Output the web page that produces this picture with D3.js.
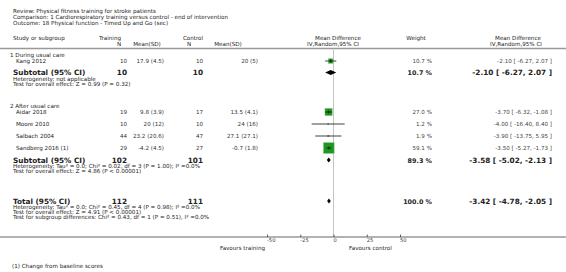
<!DOCTYPE html>
<html>
<head>
<meta charset="utf-8">
<script src="https://cdn.jsdelivr.net/npm/d3@7"></script>
<style>
  body { margin: 0; background: #fff; }
  svg text { font-family: "DejaVu Sans", Verdana, sans-serif; }
</style>
</head>
<body>
<div id="box-div"></div>
<script>
// data
const titleLines = [
    'Review:  Physical fitness training for stroke patients',
    'Comparison:  1 Cardiorespiratory training versus control - end of intervention',
    'Outcome:  18 Physical function - Timed Up and Go (sec)'
]
const groupNames = ['1 During usual care', '2 After usual care']
const studies = ['Kang 2012', 'Aidar 2018', 'Moore 2010', 'Salbach 2004', 'Sandberg 2016 (1)']
const studyGroup = [0, 1, 1, 1, 1]
const trainN = [10, 19, 10, 44, 29]
const trainMeanSD = ['17.9 (4.5)', '9.8 (3.9)', '20 (12)', '23.2 (20.6)', '-4.2 (4.5)']
const ctrlN = [10, 17, 10, 47, 27]
const ctrlMeanSD = ['20 (5)', '13.5 (4.1)', '24 (16)', '27.1 (27.1)', '-0.7 (1.8)']
const md = [-2.10, -3.70, -4.00, -3.90, -3.50]
const mdLo = [-6.27, -6.32, -16.40, -13.75, -5.27]
const mdHi = [2.07, -1.08, 8.40, 5.95, -1.73]
const weight = [10.7, 27.0, 1.2, 1.9, 59.1]

const subTrainN = [10, 102]
const subCtrlN = [10, 101]
const subMd = [-2.10, -3.58]
const subLo = [-6.27, -5.02]
const subHi = [2.07, -2.13]
const subWeight = [10.7, 89.3]
const subHet = ['Heterogeneity: not applicable',
    'Heterogeneity: Tau\u00b2 = 0.0; Chi\u00b2 = 0.02, df = 3 (P = 1.00); I\u00b2 =0.0%']
const subTest = ['Test for overall effect: Z = 0.99 (P = 0.32)',
    'Test for overall effect: Z = 4.86 (P < 0.00001)']

const total = { trainN: 112, ctrlN: 111, md: -3.42, lo: -4.78, hi: -2.05, weight: 100.0 }
const totalNotes = [
    'Heterogeneity: Tau\u00b2 = 0.0; Chi\u00b2 = 0.45, df = 4 (P = 0.98); I\u00b2 =0.0%',
    'Test for overall effect: Z = 4.91 (P < 0.00001)',
    'Test for subgroup differences: Chi\u00b2 = 0.43, df = 1 (P = 0.51), I\u00b2 =0.0%'
]
const axisTicks = [-50, -25, 0, 25, 50]
const favours = ['Favours training', 'Favours control']
const footnote = '(1) Change from baseline scores'

// layout
const dms = { width: 566, height: 272 }
const col = { left: 13, study: 16, group: 10, tN: 127, tMean: 164, cN: 203, cMean: 258, forest: 333, weight: 432, ci: 552 }
const studyY = [61, 112, 124, 136, 148]
const groupY = [55, 106]
const subY = [72.5, 160]
const totalY = 201
const axisY = 237
const fs = 5.6
const fsBold = 7.3

const svg = d3.select('#box-div').append('svg')
    .attr('width', dms.width)
    .attr('height', dms.height)

// plain hyphen for minus, like the reference
const fmt2 = v => v.toFixed(2)
const ciText = (m, l, h) => `${fmt2(m)} [ ${fmt2(l)}, ${fmt2(h)} ]`
const wText = w => `${w.toFixed(1)} %`

function txt (x, y, s, opt = {}) {
    return svg.append('text')
        .attr('x', x)
        .attr('y', y + (opt.bold ? 2.6 : 2))
        .attr('font-size', opt.size || (opt.bold ? fsBold : fs))
        .attr('font-weight', opt.bold ? 'bold' : 'normal')
        .attr('text-anchor', opt.anchor || 'start')
        .attr('fill', opt.fill || '#222')
        .text(s)
}

// titles
titleLines.forEach((t, i) => txt(col.left, 10.5 + i * 6, t))

// header
txt(col.left, 37.5, 'Study or subgroup')
txt(110, 37.5, 'Training', { anchor: 'middle' })
txt(119, 43.5, 'N', { anchor: 'middle' })
txt(147, 43.5, 'Mean(SD)', { anchor: 'middle' })
txt(193, 37.5, 'Control', { anchor: 'middle' })
txt(189, 43.5, 'N', { anchor: 'middle' })
txt(228, 43.5, 'Mean(SD)', { anchor: 'middle' })
txt(338, 37.5, 'Mean Difference', { anchor: 'middle' })
txt(333, 43.5, 'IV,Random,95% CI', { anchor: 'middle' })
txt(416, 37.5, 'Weight', { anchor: 'middle' })
txt(518, 37.5, 'Mean Difference', { anchor: 'middle' })
txt(516, 43.5, 'IV,Random,95% CI', { anchor: 'middle' })

svg.append('line')
    .attr('x1', 0).attr('x2', dms.width)
    .attr('y1', 48.5).attr('y2', 48.5)
    .attr('stroke', '#999').attr('stroke-width', 1.6)

const x = d3.scaleLinear()
    .domain([-50, 50])
    .range([267, 400])

// zero line
svg.append('line')
    .attr('x1', x(0)).attr('x2', x(0))
    .attr('y1', 50).attr('y2', axisY)
    .attr('stroke', '#c4c4c4').attr('stroke-width', 1)

// group headings
groupNames.forEach((g, i) => txt(col.group, groupY[i], g))

// study rows
const rows = studies.map((s, i) => ({
    name: s, g: studyGroup[i], tN: trainN[i], tM: trainMeanSD[i], cN: ctrlN[i], cM: ctrlMeanSD[i],
    md: md[i], lo: mdLo[i], hi: mdHi[i], w: weight[i], y: studyY[i]
}))

rows.forEach(d => {
    txt(col.study, d.y, d.name)
    txt(col.tN, d.y, d.tN, { anchor: 'end', fill: '#333' })
    txt(col.tMean, d.y, d.tM, { anchor: 'end', fill: '#333' })
    txt(col.cN, d.y, d.cN, { anchor: 'end', fill: '#333' })
    txt(col.cMean, d.y, d.cM, { anchor: 'end', fill: '#333' })
    txt(col.weight, d.y, wText(d.w), { anchor: 'end', fill: '#444' })
    txt(col.ci, d.y, ciText(d.md, d.lo, d.hi), { anchor: 'end', fill: '#444' })
})

const forest = svg.append('g').attr('id', 'forest')
const side = w => 1.37 * Math.sqrt(w)

forest.selectAll('rect.sq')
    .data(rows)
    .join('rect')
    .attr('class', 'sq')
    .attr('x', d => x(d.md) - side(d.w) / 2)
    .attr('y', d => d.y - side(d.w) / 2)
    .attr('width', d => side(d.w))
    .attr('height', d => side(d.w))
    .attr('fill', d => d.w < 3 ? '#8a8a8a' : '#1f961f')
    .attr('stroke', d => d.w < 3 ? 'none' : '#6cc46c')
    .attr('stroke-width', 0.6)

forest.selectAll('line.ci')
    .data(rows)
    .join('line')
    .attr('class', 'ci')
    .attr('x1', d => x(d.lo)).attr('x2', d => x(d.hi))
    .attr('y1', d => d.y).attr('y2', d => d.y)
    .attr('stroke', '#111').attr('stroke-width', 0.8)

forest.selectAll('line.pt')
    .data(rows.filter(d => d.w > 3))
    .join('line')
    .attr('class', 'pt')
    .attr('x1', d => x(d.md)).attr('x2', d => x(d.md))
    .attr('y1', d => d.y - 1.5).attr('y2', d => d.y + 1.5)
    .attr('stroke', '#111').attr('stroke-width', 0.8)

// subtotals
const diamond = (m, l, h, y) => {
    const hh = 2.6
    return `M${x(l)},${y}L${x(m)},${y - hh}L${x(h)},${y}L${x(m)},${y + hh}Z`
}

subY.forEach((y, i) => {
    txt(col.left, y, 'Subtotal (95% CI)', { bold: true })
    txt(col.tN, y, subTrainN[i], { bold: true, anchor: 'end' })
    txt(col.cN, y, subCtrlN[i], { bold: true, anchor: 'end' })
    txt(col.weight, y, wText(subWeight[i]), { bold: true, anchor: 'end', size: 6.4 })
    txt(col.ci, y, ciText(subMd[i], subLo[i], subHi[i]), { bold: true, anchor: 'end' })
    txt(col.left, y + 6, subHet[i])
    txt(col.left, y + 11.2, subTest[i])
    forest.append('path')
        .attr('d', diamond(subMd[i], subLo[i], subHi[i], y))
        .attr('fill', '#000')
})

// total
txt(col.left, totalY, 'Total (95% CI)', { bold: true })
txt(col.tN, totalY, total.trainN, { bold: true, anchor: 'end' })
txt(col.cN, totalY, total.ctrlN, { bold: true, anchor: 'end' })
txt(col.weight, totalY, wText(total.weight), { bold: true, anchor: 'end', size: 6.4 })
txt(col.ci, totalY, ciText(total.md, total.lo, total.hi), { bold: true, anchor: 'end' })
totalNotes.forEach((t, i) => txt(col.left, totalY + 6 + i * 5.2, t))
forest.append('path')
    .attr('d', diamond(total.md, total.lo, total.hi, totalY))
    .attr('fill', '#000')

// axis
svg.append('line')
    .attr('x1', 0).attr('x2', dms.width)
    .attr('y1', axisY).attr('y2', axisY)
    .attr('stroke', '#999').attr('stroke-width', 1.6)

const axisG = svg.append('g')
    .attr('transform', `translate(0, ${axisY})`)
    .call(d3.axisBottom(x).tickValues(axisTicks).tickFormat(d => String(d))
        .tickSizeInner(-2.5).tickSizeOuter(0).tickPadding(1.2))
axisG.select('.domain').remove()
axisG.selectAll('.tick line').attr('stroke', '#222').attr('stroke-width', 0.7)
axisG.selectAll('.tick text')
    .attr('font-size', 5.2)
    .attr('font-family', '"DejaVu Sans", Verdana, sans-serif')
    .attr('fill', '#444')
    .attr('text-anchor', 'start')
    .attr('dx', -0.5)

txt(265, 247.5, favours[0], { anchor: 'end' })
txt(349, 247.5, favours[1])

txt(12, 266, footnote)
</script>
</body>
</html>
